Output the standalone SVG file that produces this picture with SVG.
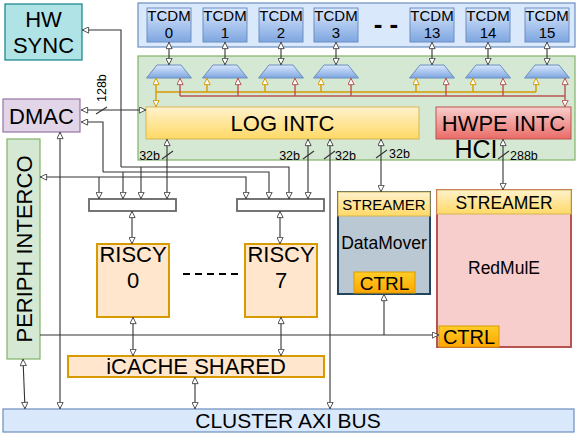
<svg xmlns="http://www.w3.org/2000/svg" width="581" height="442" viewBox="0 0 581 442">
<style>
text{font-family:"Liberation Sans",Arial,sans-serif;fill:#000}
.c{text-anchor:middle}
.ln{fill:none;stroke:#333;stroke-width:1.1}
.or{fill:none;stroke:#d79b00;stroke-width:1.4}
.rd{fill:none;stroke:#b85450;stroke-width:1.4}
.lbl{font-size:12.5px}
</style>
<defs>
<linearGradient id="gB" x1="0" y1="0" x2="0" y2="1"><stop offset="0" stop-color="#dae8fc"/><stop offset="1" stop-color="#7ea6e0"/></linearGradient>
<linearGradient id="gY" x1="0" y1="0" x2="0" y2="1"><stop offset="0" stop-color="#fff2cc"/><stop offset="1" stop-color="#ffd966"/></linearGradient>
<linearGradient id="gR" x1="0" y1="0" x2="0" y2="1"><stop offset="0" stop-color="#f8cecc"/><stop offset="1" stop-color="#ea6b66"/></linearGradient>
<linearGradient id="gO" x1="0" y1="0" x2="0" y2="1"><stop offset="0" stop-color="#ffcd28"/><stop offset="1" stop-color="#ffa500"/></linearGradient>
<marker id="a" viewBox="0 0 10 10" refX="10" refY="5" markerWidth="8" markerHeight="7" markerUnits="userSpaceOnUse" orient="auto-start-reverse"><path d="M0.5,0.5 L9.5,5 L0.5,9.5 z" fill="#fff" stroke="#333" stroke-width="1.2"/></marker>
<marker id="ao" viewBox="0 0 10 10" refX="10" refY="5" markerWidth="8" markerHeight="7" markerUnits="userSpaceOnUse" orient="auto-start-reverse"><path d="M0.5,0.5 L9.5,5 L0.5,9.5 z" fill="#fff" stroke="#d79b00" stroke-width="1.4"/></marker>
<marker id="ar" viewBox="0 0 10 10" refX="10" refY="5" markerWidth="8" markerHeight="7" markerUnits="userSpaceOnUse" orient="auto-start-reverse"><path d="M0.5,0.5 L9.5,5 L0.5,9.5 z" fill="#fff" stroke="#b85450" stroke-width="1.4"/></marker>
</defs>

<!-- backgrounds -->
<g id="tcdm-band"><rect x="138" y="3" width="437" height="44" fill="#dae8fc" stroke="#6c8ebf" stroke-width="1.2"/></g>
<g id="hci"><rect x="138" y="56" width="437" height="104" fill="#d5e8d4" stroke="#82b366" stroke-width="1.2"/>
<text x="476" y="158" class="c" font-size="25">HCI</text></g>

<!-- TCDM banks -->
<g id="tcdm0"><rect x="147" y="8" width="44" height="34" fill="url(#gB)" stroke="#6c8ebf"/><text x="169" y="21" class="c" font-size="15">TCDM</text><text x="169" y="38" class="c" font-size="15">0</text></g>
<g id="tcdm1"><rect x="203" y="8" width="44" height="34" fill="url(#gB)" stroke="#6c8ebf"/><text x="225" y="21" class="c" font-size="15">TCDM</text><text x="225" y="38" class="c" font-size="15">1</text></g>
<g id="tcdm2"><rect x="259" y="8" width="44" height="34" fill="url(#gB)" stroke="#6c8ebf"/><text x="281" y="21" class="c" font-size="15">TCDM</text><text x="281" y="38" class="c" font-size="15">2</text></g>
<g id="tcdm3"><rect x="314" y="8" width="44" height="34" fill="url(#gB)" stroke="#6c8ebf"/><text x="336" y="21" class="c" font-size="15">TCDM</text><text x="336" y="38" class="c" font-size="15">3</text></g>
<g id="tcdm-dots"><text x="386" y="33" class="c" font-size="26" font-weight="bold">- -</text></g>
<g id="tcdm13"><rect x="410" y="8" width="44" height="34" fill="url(#gB)" stroke="#6c8ebf"/><text x="432" y="21" class="c" font-size="15">TCDM</text><text x="432" y="38" class="c" font-size="15">13</text></g>
<g id="tcdm14"><rect x="466" y="8" width="44" height="34" fill="url(#gB)" stroke="#6c8ebf"/><text x="488" y="21" class="c" font-size="15">TCDM</text><text x="488" y="38" class="c" font-size="15">14</text></g>
<g id="tcdm15"><rect x="525" y="8" width="44" height="34" fill="url(#gB)" stroke="#6c8ebf"/><text x="547" y="21" class="c" font-size="15">TCDM</text><text x="547" y="38" class="c" font-size="15">15</text></g>

<!-- muxes -->
<g id="muxes" fill="url(#gB)" stroke="#6c8ebf">
<path d="M157,65 H181 L191.5,78 H146.5 Z"/>
<path d="M213,65 H237 L247.5,78 H202.5 Z"/>
<path d="M269,65 H293 L303.5,78 H258.5 Z"/>
<path d="M324,65 H348 L358.5,78 H313.5 Z"/>
<path d="M420,65 H444 L454.5,78 H409.5 Z"/>
<path d="M476,65 H500 L510.5,78 H465.5 Z"/>
<path d="M535,65 H559 L569.5,78 H524.5 Z"/>
</g>

<!-- nodes -->
<g id="hwsync"><rect x="5" y="4" width="77" height="56" fill="#b0e3e6" stroke="#0e8088" stroke-width="1.2"/><text x="43.5" y="27" class="c" font-size="22">HW</text><text x="43.5" y="53" class="c" font-size="22">SYNC</text></g>
<g id="dmac"><rect x="3" y="99" width="77" height="33" fill="#e1d5e7" stroke="#9673a6" stroke-width="1.2"/><text x="41.5" y="124" class="c" font-size="22">DMAC</text></g>
<g id="periph"><rect x="7" y="139" width="33" height="220" fill="#d5e8d4" stroke="#82b366" stroke-width="1.2"/><text transform="translate(31.5,249) rotate(-90)" class="c" font-size="22">PERIPH INTERCO</text></g>
<g id="logintc"><rect x="146" y="107" width="273" height="32" fill="url(#gY)" stroke="#d6b656"/><text x="282.5" y="131" class="c" font-size="22">LOG INTC</text></g>
<g id="hwpeintc"><rect x="436" y="107" width="135" height="32" fill="url(#gR)" stroke="#b85450"/><text x="503.5" y="131" class="c" font-size="22">HWPE INTC</text></g>
<g id="bar0"><rect x="89" y="199" width="87" height="12" fill="#fff" stroke="#666" stroke-width="1.8"/></g>
<g id="bar7"><rect x="237" y="199" width="87" height="12" fill="#fff" stroke="#666" stroke-width="1.8"/></g>
<g id="riscy0"><rect x="97" y="244" width="72" height="73" fill="#ffe6cc" stroke="#d79b00" stroke-width="2"/><text x="133" y="262" class="c" font-size="22">RISCY</text><text x="133" y="288" class="c" font-size="22">0</text></g>
<g id="riscy7"><rect x="245" y="244" width="72" height="73" fill="#ffe6cc" stroke="#d79b00" stroke-width="2"/><text x="281" y="262" class="c" font-size="22">RISCY</text><text x="281" y="288" class="c" font-size="22">7</text></g>
<g id="riscy-dots"><line x1="183" y1="274" x2="239" y2="274" stroke="#000" stroke-width="2" stroke-dasharray="7,5"/></g>
<g id="datamover"><rect x="338" y="192" width="92" height="102" fill="#bac8d3" stroke="#23445d" stroke-width="2"/>
<rect x="338" y="192" width="92" height="24" fill="url(#gY)" stroke="#d6b656"/><text x="384" y="209.5" class="c" font-size="15">STREAMER</text>
<text x="384" y="249" class="c" font-size="17.5">DataMover</text>
<rect x="354" y="272" width="61" height="21" fill="url(#gO)" stroke="#d79b00"/><text x="384.5" y="290" class="c" font-size="19">CTRL</text></g>
<g id="redmule"><rect x="437" y="190" width="134" height="157" fill="#f8cecc" stroke="#b85450" stroke-width="2"/>
<rect x="437" y="190" width="134" height="24" fill="url(#gY)" stroke="#d6b656"/><text x="504" y="208.5" class="c" font-size="17.5">STREAMER</text>
<text x="504" y="274" class="c" font-size="17.5">RedMulE</text>
<rect x="439" y="326" width="60" height="21" fill="url(#gO)" stroke="#d79b00"/><text x="469" y="344" class="c" font-size="20">CTRL</text></g>
<g id="icache"><rect x="68" y="356" width="256" height="21" fill="#ffe6cc" stroke="#d79b00" stroke-width="2"/><text x="196" y="374" class="c" font-size="22">iCACHE SHARED</text></g>
<g id="axi"><rect x="3" y="409" width="571" height="23" fill="#dae8fc" stroke="#6c8ebf" stroke-width="1.2"/><text x="288" y="428" class="c" font-size="21">CLUSTER AXI BUS</text></g>

<!-- connectors -->
<g id="connectors">
<!-- TCDM to mux -->
<g class="ln" marker-start="url(#a)" marker-end="url(#a)">
<line x1="169" y1="42" x2="169" y2="65"/><line x1="225" y1="42" x2="225" y2="65"/><line x1="281" y1="42" x2="281" y2="65"/><line x1="336" y1="42" x2="336" y2="65"/><line x1="432" y1="42" x2="432" y2="65"/><line x1="488" y1="42" x2="488" y2="65"/><line x1="547" y1="42" x2="547" y2="65"/>
</g>
<!-- orange log network -->
<polyline class="or" points="156,92 536,92"/>
<g class="or" marker-end="url(#ao)">
<line x1="207" y1="92" x2="207" y2="78"/><line x1="265" y1="92" x2="265" y2="78"/><line x1="321" y1="92" x2="321" y2="78"/><line x1="416" y1="92" x2="416" y2="78"/><line x1="473" y1="92" x2="473" y2="78"/><line x1="536" y1="92" x2="536" y2="78"/>
</g>
<line class="or" x1="156" y1="78" x2="156" y2="107" marker-start="url(#ao)" marker-end="url(#ao)"/>
<!-- red hwpe network -->
<polyline class="rd" points="180,96 565,96"/>
<g class="rd" marker-end="url(#ar)">
<line x1="180" y1="96" x2="180" y2="78"/><line x1="238" y1="96" x2="238" y2="78"/><line x1="295" y1="96" x2="295" y2="78"/><line x1="351" y1="96" x2="351" y2="78"/><line x1="446" y1="96" x2="446" y2="78"/><line x1="503" y1="96" x2="503" y2="78"/>
</g>
<line class="rd" x1="565" y1="78" x2="565" y2="107" marker-start="url(#ar)" marker-end="url(#ar)"/>

<!-- LOG / HWPE down links -->
<g class="ln" marker-start="url(#a)" marker-end="url(#a)">
<line x1="167" y1="139" x2="167" y2="199"/>
<line x1="308" y1="139" x2="308" y2="199"/>
<line x1="330" y1="139" x2="330" y2="409"/>
<line x1="381" y1="139" x2="381" y2="192"/>
<line x1="503" y1="139" x2="503" y2="190"/>
<line x1="81" y1="110" x2="146" y2="110"/>
<line x1="60" y1="132" x2="60" y2="409"/>
<line x1="23" y1="359" x2="25" y2="409"/>
<line x1="132" y1="211" x2="132" y2="244"/>
<line x1="280" y1="211" x2="280" y2="244"/>
<line x1="133" y1="317" x2="133" y2="356"/>
<line x1="281" y1="317" x2="281" y2="356"/>
<line x1="195" y1="377" x2="195" y2="409"/>
</g>
<!-- HW SYNC -->
<polyline class="ln" points="121,167 121,30 82,30" marker-end="url(#a)"/>
<polyline class="ln" points="121,167 289,167 289,199" marker-end="url(#a)"/>
<line class="ln" x1="141" y1="167" x2="141" y2="199" marker-end="url(#a)"/>
<!-- DMAC -->
<polyline class="ln" points="103,172 103,122 81,122" marker-end="url(#a)"/>
<polyline class="ln" points="103,172 269,172 269,199" marker-end="url(#a)"/>
<line class="ln" x1="123" y1="172" x2="123" y2="199" marker-end="url(#a)"/>
<!-- PERIPH -->
<polyline class="ln" points="246,199 246,177 40,177" marker-start="url(#a)" marker-end="url(#a)"/>
<line class="ln" x1="99" y1="177" x2="99" y2="199" marker-end="url(#a)"/>
<line class="ln" x1="40" y1="335" x2="439" y2="335" marker-end="url(#a)"/>
<line class="ln" x1="384" y1="335" x2="384" y2="294" marker-end="url(#a)"/>

<!-- width labels -->
<g class="ln">
<line x1="96" y1="114" x2="107" y2="107"/>
<line x1="162" y1="159" x2="173" y2="151"/>
<line x1="303" y1="159" x2="314" y2="151"/>
<line x1="324" y1="159" x2="335" y2="151"/>
<line x1="376" y1="158" x2="387" y2="150"/>
<line x1="498" y1="159" x2="509" y2="151"/>
</g>
<text transform="translate(106,102) rotate(-90)" class="lbl">128b</text>
<text x="160" y="160" class="lbl" text-anchor="end">32b</text>
<text x="300" y="160" class="lbl" text-anchor="end">32b</text>
<text x="335" y="160" class="lbl">32b</text>
<text x="389" y="158" class="lbl">32b</text>
<text x="510" y="160" class="lbl">288b</text>
</g>
</svg>
